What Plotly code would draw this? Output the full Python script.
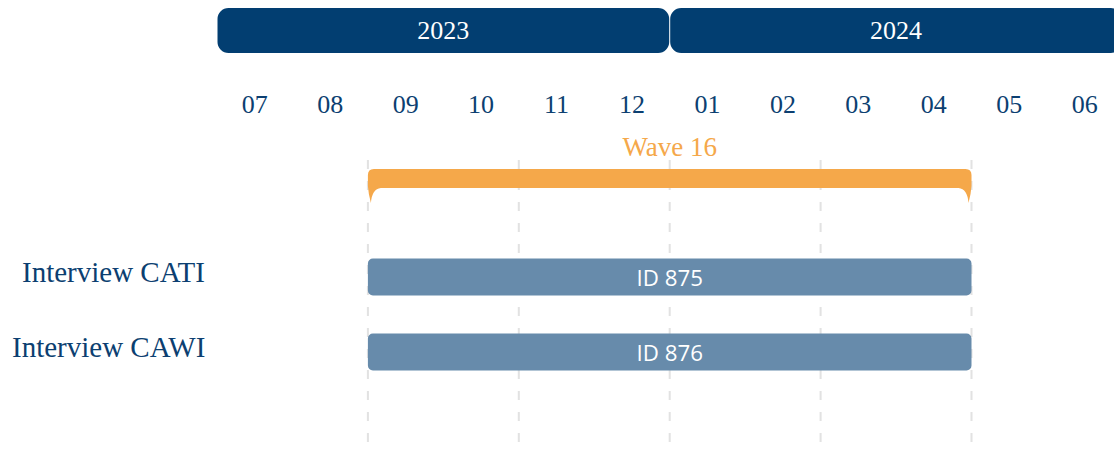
import plotly.graph_objects as go

# ---------------- data ----------------
years = ["2023", "2024"]
year_start = [0, 6]          # month index (0 = July 2023)
year_len = [6, 6]

months = ["07", "08", "09", "10", "11", "12", "01", "02", "03", "04", "05", "06"]

rows = ["Interview CATI", "Interview CAWI"]
row_ids = ["ID 875", "ID 876"]
row_start = [2, 2]           # Sept 2023
row_end = [10, 10]           # end of April 2024 (start of May)

wave_label = "Wave 16"
wave_start = 2
wave_end = 10

grid_months = [2, 4, 6, 8, 10]

# ---------------- styling / geometry ----------------
W, H = 1114, 453
ML = 217                      # pixel where the timeline starts
PX_MONTH = 75.45              # pixels per month
PX_ROW = 75.0                 # pixels per y unit
ROW0_PX = 277.0               # pixel y of first row centre

NAVY = "#023e71"
LABEL = "#0c3f71"
BAR = "#678bab"
ORANGE = "#f5a84a"
GRID = "#e2e2e2"
SERIF = "Liberation Serif"
SANS = "Open Sans"


def ypx(p):
    """pixel y -> data y"""
    return (p - ROW0_PX) / PX_ROW


dx = 1.0 / PX_MONTH
dy = 1.0 / PX_ROW

fig = go.Figure()

# year bands
gap = 0.5 * dx
fig.add_trace(go.Bar(
    y=[ypx(30.5)] * len(years),
    base=[s + gap for s in year_start],
    x=[l - 2 * gap for l in year_len],
    orientation="h",
    width=45 * dy,
    marker=dict(color=NAVY, cornerradius=11, line=dict(width=0)),
    text=years,
    textposition="inside",
    insidetextanchor="middle",
    constraintext="none",
    textfont=dict(family=SERIF, size=26, color="white"),
    hoverinfo="skip",
    showlegend=False,
))

# month labels
fig.add_trace(go.Scatter(
    x=[i + 0.5 for i in range(len(months))],
    y=[ypx(106)] * len(months),
    mode="text",
    text=months,
    textfont=dict(family=SERIF, size=26, color=LABEL),
    hoverinfo="skip",
    showlegend=False,
))

# wave label
fig.add_trace(go.Scatter(
    x=[(wave_start + wave_end) / 2],
    y=[ypx(149)],
    mode="text",
    text=[wave_label],
    textfont=dict(family=SERIF, size=27, color=ORANGE),
    hoverinfo="skip",
    showlegend=False,
))

# interview bars
fig.add_trace(go.Bar(
    y=list(range(len(rows))),
    base=row_start,
    x=[e - s for s, e in zip(row_start, row_end)],
    orientation="h",
    width=37 * dy,
    marker=dict(color=BAR, cornerradius=5, line=dict(width=0)),
    text=row_ids,
    textposition="inside",
    insidetextanchor="middle",
    constraintext="none",
    textfont=dict(family=SANS, size=23, color="white"),
    hoverinfo="skip",
    showlegend=False,
))

# dashed grid lines
for g in grid_months:
    fig.add_shape(type="line", xref="x", yref="y",
                  x0=g, x1=g, y0=ypx(160), y1=ypx(H),
                  line=dict(color=GRID, width=2, dash="9px,12px"),
                  layer="below")

# wave bracket
x0, x1 = wave_start, wave_end
yt, yb, ytip = ypx(169), ypx(188), ypx(203)
r = 6
path = (
    f"M {x0},{yt + r*dy} "
    f"Q {x0},{yt} {x0 + r*dx},{yt} "
    f"L {x1 - r*dx},{yt} "
    f"Q {x1},{yt} {x1},{yt + r*dy} "
    f"L {x1},{yb - 2*dy} "
    f"Q {x1 - 0.5*dx},{yb + 6*dy} {x1 - 3*dx},{ytip} "
    f"Q {x1 - 4*dx},{yb + 1*dy} {x1 - 13*dx},{yb} "
    f"L {x0 + 13*dx},{yb} "
    f"Q {x0 + 4*dx},{yb + 1*dy} {x0 + 3*dx},{ytip} "
    f"Q {x0 + 0.5*dx},{yb + 6*dy} {x0},{yb - 2*dy} Z"
)
fig.add_shape(type="path", xref="x", yref="y", path=path,
              fillcolor=ORANGE, line=dict(width=0), layer="above")

# row labels
for i, name in enumerate(rows):
    fig.add_annotation(x=-10 / (W - ML), xref="paper", y=i, yref="y",
                       text=name, showarrow=False, xanchor="right",
                       yanchor="middle", yshift=5,
                       font=dict(family=SERIF, size=29, color=LABEL))

fig.update_layout(
    width=W, height=H,
    margin=dict(l=ML, r=0, t=0, b=0),
    paper_bgcolor="white", plot_bgcolor="white",
    barmode="overlay",
    showlegend=False,
    xaxis=dict(range=[0, (W - ML) / PX_MONTH], visible=False, fixedrange=True),
    yaxis=dict(range=[ypx(H), ypx(0)], visible=False, fixedrange=True),
)

fig.write_html(
    "out.html",
    config={"displayModeBar": False},
    post_script="document.body.style.margin='0';document.body.style.overflow='hidden';",
)
